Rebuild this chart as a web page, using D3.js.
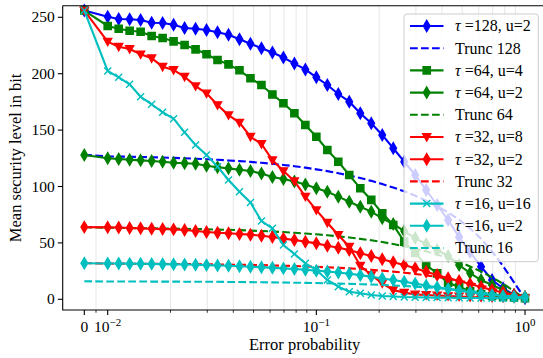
<!DOCTYPE html>
<html><head><meta charset="utf-8">
<script src="https://cdn.jsdelivr.net/npm/d3@7/dist/d3.min.js"></script>
<style>body{margin:0;background:#fff}svg{display:block}text{font-family:"Liberation Serif","Times New Roman",serif;fill:#000}</style>
</head><body><svg id="c" width="543" height="358"></svg>
<script>
// ---------- data ----------
const pVals = [0, 0.01, 0.01129, 0.01274, 0.01438, 0.01624, 0.01833, 0.02069, 0.02336, 0.02637, 0.02976, 0.0336, 0.03793, 0.04281, 0.04833, 0.05456, 0.06158, 0.06952, 0.07848, 0.08859, 0.1, 0.1129, 0.1274, 0.1438, 0.1624, 0.1833, 0.2069, 0.2336, 0.2637, 0.2976, 0.336, 0.3793, 0.4281, 0.4833, 0.5456, 0.6158, 0.6952, 0.7848, 0.8859, 1.0];
const tau128u2 = [256, 250.5, 248.5, 248.3, 247.6, 245.2, 245.0, 243.4, 240.5, 239.9, 238.7, 236.7, 234.6, 230.5, 226.6, 222.5, 218.8, 214.4, 209, 203.8, 196.8, 190, 182, 175.2, 164.9, 156, 145.7, 133.9, 122, 110.2, 96.9, 83.6, 70.3, 55.2, 41.9, 28.9, 17.1, 9.8, 3.8, 1];
const trunc128 = [128, 126.7, 126.5, 126.4, 126.2, 125.9, 125.7, 125.4, 125.0, 124.6, 124.2, 123.7, 123.1, 122.5, 121.8, 121.0, 120.1, 119.1, 118.0, 116.7, 115.2, 113.6, 111.8, 109.8, 107.5, 105.0, 102.2, 99.1, 95.7, 91.8, 87.5, 82.6, 77.0, 70.5, 62.8, 53.6, 42.4, 29.5, 15.0, 0.5];
const tau64u4 = [256, 242.3, 239.9, 238.1, 237.2, 233.4, 231.6, 228.7, 225.4, 221.6, 217.2, 212.1, 208.3, 203, 195.9, 190, 181.6, 173.8, 164.9, 154.5, 144.1, 132.4, 122, 110.2, 98.4, 88.1, 76.2, 65.9, 51.1, 41, 30.4, 23, 14.7, 10.9, 7.4, 4.7, 2.9, 2, 1.6, 1];
const tau64u2 = [128, 125, 124.4, 123.8, 123.2, 122.6, 122, 121.1, 120.6, 120.2, 118.4, 117, 116.1, 114.9, 113.7, 111.5, 108.4, 106.6, 104.4, 101.8, 98.4, 95.4, 91, 86.5, 82.1, 77.7, 71.8, 66.8, 60.5, 54.3, 49, 43.7, 38.4, 30.4, 23.3, 17.1, 12.7, 8.2, 3.8, 2];
const trunc64 = [64, 63.4, 63.3, 63.2, 63.1, 63.0, 62.8, 62.7, 62.5, 62.3, 62.1, 61.8, 61.6, 61.3, 60.9, 60.5, 60.1, 59.6, 59.0, 58.3, 57.6, 56.8, 55.8, 54.8, 53.6, 52.3, 50.8, 49.0, 47.1, 44.9, 42.5, 39.7, 36.6, 33.1, 29.1, 24.6, 19.5, 13.8, 7.3, 0.5];
const tau32u8 = [256, 228.4, 223.9, 221.9, 217.2, 213.7, 206.2, 203.3, 197.3, 189, 182.6, 172.2, 163.3, 156.7, 144.1, 137.7, 123.4, 113.7, 104.8, 91, 79.1, 67.9, 57, 46.6, 29.8, 21.5, 14.2, 8.2, 5.9, 4.4, 3.8, 3.4, 2.9, 2.5, 2, 1.8, 1.5, 1.3, 1.1, 1];
const tau32u2 = [64, 63.8, 63.6, 63.2, 62.9, 62.6, 62.3, 62.0, 61.4, 60.5, 59.7, 59.0, 58.5, 57.9, 57.3, 56.3, 55.2, 53.8, 52.6, 51.1, 49.6, 47.5, 45.7, 43.7, 40.8, 38.4, 35.5, 32.8, 30.4, 27.5, 24.5, 21.5, 18.6, 16.2, 13.6, 10.9, 8.2, 6, 3.8, 2];
const trunc32 = [32, 31.7, 31.6, 31.6, 31.5, 31.5, 31.4, 31.3, 31.3, 31.2, 31.0, 30.9, 30.8, 30.6, 30.5, 30.3, 30.0, 29.8, 29.5, 29.2, 28.8, 28.4, 27.9, 27.4, 26.8, 26.1, 25.4, 24.5, 23.6, 22.5, 21.2, 19.9, 18.3, 16.5, 14.5, 12.3, 9.8, 6.9, 3.6, 0.3];
const tau16u16 = [256, 202.4, 196.8, 190.6, 179.6, 172.9, 165.8, 160.1, 148, 136.8, 127.9, 117.6, 105.8, 95.4, 85.8, 69.4, 62.9, 48.1, 40.2, 31.9, 26, 17.1, 11.2, 6.7, 5.3, 3.8, 2.9, 2.5, 2.0, 1.8, 1.6, 1.5, 1.4, 1.3, 1.2, 1.1, 1.0, 1.0, 1.0, 1.0];
const tau16u2 = [32, 31.8, 31.7, 31.6, 31.5, 31.4, 31.2, 31.0, 30.8, 30.6, 30.3, 30.0, 29.7, 29.3, 28.9, 28.5, 27.9, 27.4, 26.9, 26.2, 25.4, 24.6, 23.7, 22.6, 21.4, 20, 18.5, 17.1, 15.5, 13.9, 12.3, 10.7, 9.1, 7.6, 6.2, 5, 3.9, 3, 2.3, 1.8];
const trunc16 = [16, 15.8, 15.8, 15.8, 15.8, 15.7, 15.7, 15.7, 15.6, 15.6, 15.5, 15.5, 15.4, 15.3, 15.2, 15.1, 15.0, 14.9, 14.7, 14.6, 14.4, 14.2, 14.0, 13.7, 13.4, 13.1, 12.7, 12.3, 11.8, 11.2, 10.6, 9.9, 9.2, 8.3, 7.3, 6.1, 4.9, 3.4, 1.8, 0.2];

const yTicks = [0, 50, 100, 150, 200, 250];
const xMajorTicks = [0, 0.01, 0.1, 1];
const xMajorLabels = [["0",null],["10","−2"],["10","−1"],["10","0"]];
const xMinorTicks = [0.005, 0.02,0.03,0.04,0.05,0.06,0.07,0.08,0.09, 0.2,0.3,0.4,0.5,0.6,0.7,0.8,0.9];
const xLabel = "Error probability";
const yLabel = "Mean security level in bit";

// ---------- styles ----------
const BLUE="#0000ff", GREEN="#008000", RED="#ff0000", CYAN="#00bfbf";
const series = [
  {vals: tau128u2, color: BLUE,  marker: "d", dash: false, label: ["τ"," =128, u=2"]},
  {vals: trunc128, color: BLUE,  marker: null, dash: true,  label: [null,"Trunc 128"]},
  {vals: tau64u4,  color: GREEN, marker: "s", dash: false, label: ["τ"," =64, u=4"]},
  {vals: tau64u2,  color: GREEN, marker: "d", dash: false, label: ["τ"," =64, u=2"]},
  {vals: trunc64,  color: GREEN, marker: null, dash: true,  label: [null,"Trunc 64"]},
  {vals: tau32u8,  color: RED,   marker: "v", dash: false, label: ["τ"," =32, u=8"]},
  {vals: tau32u2,  color: RED,   marker: "d", dash: false, label: ["τ"," =32, u=2"]},
  {vals: trunc32,  color: RED,   marker: null, dash: true,  label: [null,"Trunc 32"]},
  {vals: tau16u16, color: CYAN,  marker: "x", dash: false, label: ["τ"," =16, u=16"]},
  {vals: tau16u2,  color: CYAN,  marker: "d", dash: false, label: ["τ"," =16, u=2"]},
  {vals: trunc16,  color: CYAN,  marker: null, dash: true,  label: [null,"Trunc 16"]},
];

// ---------- geometry ----------
const L = 62.7, R = 546.6, T = 5.7, B = 310;
const svg = d3.select("#c");

// symlog-like x: linear on [0, 0.01], log above
const xLog = d3.scaleLog().domain([0.01, 1]).range([107.7, 525]);
const xLin = d3.scaleLinear().domain([0, 0.01]).range([84.3, 107.7]);
const x = v => v < 0.01 ? xLin(v) : xLog(v);
const y = d3.scaleLinear().domain([0, 250]).range([299.3, 17.3]);

// grid (minor only)
svg.append("g").selectAll("line").data(xMinorTicks).join("line")
  .attr("x1", d => x(d)).attr("x2", d => x(d)).attr("y1", T).attr("y2", B)
  .attr("stroke", "#b0b0b0").attr("stroke-opacity", 0.3).attr("stroke-width", 1);

function markerPath(type){
  if (type === "d") return "M0,-5.6L3.3,0L0,5.6L-3.3,0Z";
  if (type === "s") return "M-3.6,-3.6H3.6V3.6H-3.6Z";
  if (type === "v") return "M-4,-3.2H4L0,4Z";
  if (type === "x") return "M-3.5,-3.5L3.5,3.5M-3.5,3.5L3.5,-3.5";
  return "";
}

const plot = svg.append("g");
const lineGen = d3.line().x(d => x(d[0])).y(d => y(d[1]));
series.forEach(s => {
  const pts = pVals.map((p, i) => [p, s.vals[i]]);
  plot.append("path").datum(pts).attr("d", lineGen)
    .attr("fill", "none").attr("stroke", s.color).attr("stroke-width", 2.1)
    .attr("stroke-dasharray", s.dash ? "7.7,3.3" : null);
  if (s.marker) {
    plot.append("g").selectAll("path").data(pts).join("path")
      .attr("transform", d => `translate(${x(d[0])},${y(d[1])})`)
      .attr("d", markerPath(s.marker))
      .attr("fill", s.marker === "x" ? "none" : s.color)
      .attr("stroke", s.color).attr("stroke-width", 1.4);
  }
});

// spines
svg.append("path").attr("d", `M${L},${T}V${B}H${R}`).attr("fill","none").attr("stroke","#000").attr("stroke-width",1.1);
svg.append("line").attr("x1",L).attr("x2",R).attr("y1",T).attr("y2",T).attr("stroke","#000").attr("stroke-width",1.1);
svg.append("line").attr("x1",R).attr("x2",R).attr("y1",T).attr("y2",B).attr("stroke","#000").attr("stroke-width",1.1);

// y axis ticks
const yg = svg.append("g");
yTicks.forEach(t => {
  yg.append("line").attr("x1", L-4.9).attr("x2", L).attr("y1", y(t)).attr("y2", y(t)).attr("stroke","#000").attr("stroke-width",1.1);
  yg.append("text").attr("x", L-8).attr("y", y(t)+5).attr("text-anchor","end").attr("font-size",15.5).text(t);
});
// x axis ticks
const xg = svg.append("g");
xMajorTicks.forEach((t,i) => {
  xg.append("line").attr("x1", x(t)).attr("x2", x(t)).attr("y1", B).attr("y2", B+4.9).attr("stroke","#000").attr("stroke-width",1.1);
  const lab = xMajorLabels[i];
  const tx = xg.append("text").attr("x", x(t)).attr("y", B+22).attr("text-anchor","middle").attr("font-size",15.5);
  tx.append("tspan").text(lab[0]);
  if (lab[1]) tx.append("tspan").attr("dy",-6).attr("font-size",11).text(lab[1]);
});
xMinorTicks.forEach(t => {
  xg.append("line").attr("x1", x(t)).attr("x2", x(t)).attr("y1", B).attr("y2", B+2.8).attr("stroke","#000").attr("stroke-width",0.8);
});

// axis labels
svg.append("text").attr("x", (L+R)/2).attr("y", 350).attr("text-anchor","middle").attr("font-size",16.5).text(xLabel);
svg.append("text").attr("transform", `translate(21,${(T+B)/2}) rotate(-90)`).attr("text-anchor","middle").attr("font-size",16.5).text(yLabel);

// legend
const lg = svg.append("g");
lg.append("rect").attr("x",404).attr("y",14).attr("width",134.3).attr("height",247.7).attr("rx",3)
  .attr("fill","#fff").attr("fill-opacity",0.8).attr("stroke","#cccccc").attr("stroke-width",1);
series.forEach((s,i) => {
  const cy = 26 + i*22.2;
  lg.append("line").attr("x1",410).attr("x2",443.5).attr("y1",cy).attr("y2",cy)
    .attr("stroke",s.color).attr("stroke-width",2.1).attr("stroke-dasharray", s.dash ? "7.7,3.3" : null);
  if (s.marker) lg.append("path").attr("transform",`translate(426.7,${cy})`).attr("d", markerPath(s.marker))
    .attr("fill", s.marker === "x" ? "none" : s.color).attr("stroke", s.color).attr("stroke-width",1.4);
  const tx = lg.append("text").attr("x",455).attr("y",cy+5.3).attr("font-size",16);
  if (s.label[0]) tx.append("tspan").attr("font-style","italic").text(s.label[0]);
  tx.append("tspan").text(s.label[1]);
});
</script></body></html>
